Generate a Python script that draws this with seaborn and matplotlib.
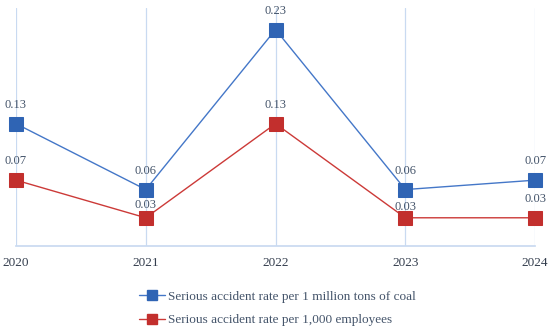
import matplotlib
matplotlib.use("Agg")
import matplotlib.pyplot as plt
import pandas as pd
import seaborn as sns

# chart data
years = ["2020", "2021", "2022", "2023", "2024"]
rate_coal = [0.13, 0.06, 0.23, 0.06, 0.07]
rate_employees = [0.07, 0.03, 0.13, 0.03, 0.03]
series_names = ["Serious accident rate per 1 million tons of coal",
                "Serious accident rate per 1,000 employees"]

df = pd.DataFrame({
    "year": years * 2,
    "rate": rate_coal + rate_employees,
    "series": [series_names[0]] * len(years) + [series_names[1]] * len(years),
})

sns.set_theme(style="white")
plt.rcParams["font.family"] = ["Liberation Serif", "DejaVu Serif"]

line_cols = {series_names[0]: "#4477c8", series_names[1]: "#cc3a38"}
mark_cols = {series_names[0]: "#2f64b4", series_names[1]: "#c22f2d"}
text_col = "#44546a"

fig = plt.figure(figsize=(5.5, 3.32), dpi=100)
ax = fig.add_axes([0.029, 0.259, 0.944, 0.717])

sns.lineplot(data=df, x="year", y="rate", hue="series", palette=line_cols,
             marker="s", markersize=10, linewidth=1.0, sort=False,
             legend=False, ax=ax)

# recolour markers to look like the source, let edge markers spill over
for line, name in zip(ax.get_lines(), series_names):
    line.set_markerfacecolor(mark_cols[name])
    line.set_markeredgecolor(mark_cols[name])
    line.set_clip_on(False)

# data labels (red ones nudged down where they would hit the blue marker)
label_nudge = {(1, 1): 4, (1, 3): 6}
for s, vals in enumerate((rate_coal, rate_employees)):
    for i, v in enumerate(vals):
        off = 13.5 - label_nudge.get((s, i), 0)
        ax.annotate(f"{v:.2f}", (i, v), xytext=(0, off), textcoords="offset points",
                    ha="center", va="center", fontsize=9, color=text_col,
                    annotation_clip=False)

ax.set_xlim(0, len(years) - 1)
ax.set_ylim(0, 0.253)
ax.set_yticks([])
ax.set_xlabel("")
ax.set_ylabel("")
ax.xaxis.grid(True, color="#c9daf1", linewidth=0.9)
ax.set_axisbelow(True)
for side in ["top", "right", "left"]:
    ax.spines[side].set_visible(False)
ax.spines["bottom"].set_color("#c9daf1")
ax.tick_params(axis="x", length=0, pad=8, labelsize=9.5, labelcolor="#333d4d")

handles = [plt.Line2D([], [], color=line_cols[n], marker="s", markersize=6.5,
                      markerfacecolor=mark_cols[n], markeredgecolor=mark_cols[n],
                      linewidth=1.0) for n in series_names]
fig.legend(handles, series_names, loc="upper left", bbox_to_anchor=(0.252, 0.125),
           frameon=False, fontsize=9.5, handlelength=2.0, handletextpad=0.2,
           labelspacing=0.85, labelcolor=text_col, borderaxespad=0, borderpad=0)

fig.savefig("out.png", dpi=100)
